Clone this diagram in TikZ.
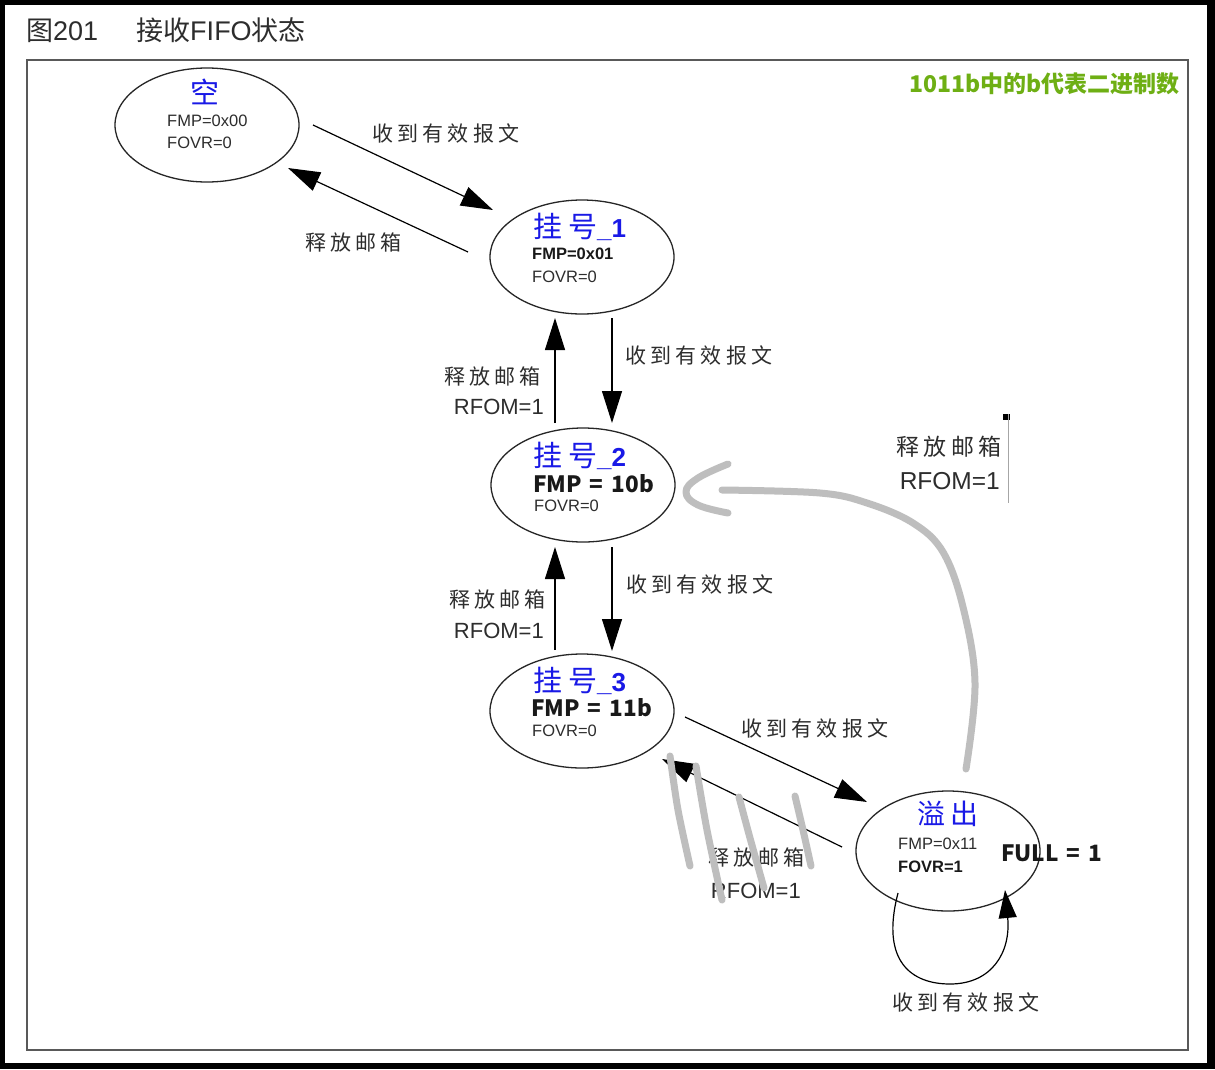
\documentclass[tikz,border=0pt]{standalone}
\usepackage{fontspec}
\setmainfont{Liberation Sans}
\newfontfamily\cjk{Noto Sans CJK SC}
\newfontfamily\cjkls{Noto Sans CJK SC}[LetterSpace=20]
\usetikzlibrary{arrows.meta,shapes.geometric,calc}
\definecolor{ttblue}{RGB}{25,25,230}
\definecolor{tgreen}{RGB}{110,175,20}
\definecolor{handgray}{RGB}{190,190,190}
\definecolor{txt}{RGB}{45,45,45}
\newcommand{\fsz}[1]{\fontsize{#1}{#1}\selectfont}
\newcommand{\eqs}{\hspace{8pt}=\hspace{8pt}}
\begin{document}
\begin{tikzpicture}[x=1pt,y=-1pt,
  st/.style={draw=black!85, ellipse, line width=1.3pt, minimum width=184pt, minimum height=114pt, inner sep=0pt},
  arr/.style={line width=1.2pt, -{Triangle[length=32pt,width=20pt]}},
  lbl/.style={inner sep=0pt, anchor=west, text=txt, font=\cjkls\fsz{21}},
  lblr/.style={inner sep=0pt, anchor=east, text=txt, font=\cjkls\fsz{21}},
  rf/.style={inner sep=0pt, anchor=east, text=txt, font=\fsz{22}},
  small/.style={inner sep=0pt, anchor=west, text=txt, font=\fsz{16.5}},
  smallb/.style={inner sep=0pt, anchor=west, text=black!90, font=\bfseries\fsz{16.5}},
  big/.style={inner sep=0pt, anchor=west, text=black!90, font=\cjk\bfseries\fsz{22.5}},
  ttl/.style={inner sep=0pt, text=ttblue},
  handline/.style={draw=handgray, line width=7pt, line cap=round, line join=round}
]
\useasboundingbox (0,0) rectangle (1215,1069);
\fill[black] (0,0) rectangle (1215,1069);
\fill[white] (5,5) rectangle (1207,1063);
\draw[black!65, line width=2pt] (27,60) rectangle (1188,1050);

% title
\node[inner sep=0pt, anchor=west, text=txt] (title) at (26,30)
  {\fsz{27}{\cjk 图}201\hspace{38pt}{\cjk 接收}FIFO{\cjk 状态}};
\node[inner sep=0pt, anchor=east, text=tgreen, font=\cjk\bfseries\fsz{23}] (note) at (1180,84)
  {1011b中的b代表二进制数};

% states
\node[st] (e0) at (207,125) {};
\node[st] (e1) at (582,257) {};
\node[st] (e2) at (583,485) {};
\node[st] (e3) at (582,711) {};
\node[st, minimum height=120pt] (e4) at (948,851) {};

% state texts
\node[ttl, font=\cjk\fsz{29}] (t0) at (205,92) {空};
\node[small] (t0a) at (167,121) {FMP=0x00};
\node[small] (t0b) at (167,143) {FOVR=0};

\node[ttl, anchor=west] (t1) at (533,227) {{\cjk\fsz{29}挂\hspace{6pt}号}{\bfseries\fsz{26}\_1}};
\node[smallb] (t1a) at (532,254) {FMP=0x01};
\node[small] (t1b) at (532,277) {FOVR=0};

\node[ttl, anchor=west] (t2) at (533,456) {{\cjk\fsz{29}挂\hspace{6pt}号}{\bfseries\fsz{26}\_2}};
\node[big] (t2a) at (533,484) {FMP\eqs10b};
\node[small] (t2b) at (534,506) {FOVR=0};

\node[ttl, anchor=west] (t3) at (533,681) {{\cjk\fsz{29}挂\hspace{6pt}号}{\bfseries\fsz{26}\_3}};
\node[big] (t3a) at (531,708) {FMP\eqs11b};
\node[small] (t3b) at (532,731) {FOVR=0};

\node[ttl, font=\cjkls\fsz{28}] (t4) at (948,814) {溢出};
\node[small] (t4a) at (898,844) {FMP=0x11};
\node[smallb] (t4b) at (898,867) {FOVR=1};
\node[big] (t4c) at (1001,853) {FULL\eqs1};

% edge labels
\node[lbl] (l1) at (372,133) {收到有效报文};
\node[lbl] (l2) at (305,242) {释放邮箱};
\node[lbl] (l3) at (625,355) {收到有效报文};
\node[lblr] (l4) at (541,376) {释放邮箱};
\node[rf] (l4b) at (544,407) {RFOM=1};
\node[lbl] (l5) at (626,584) {收到有效报文};
\node[lblr] (l6) at (546,599) {释放邮箱};
\node[rf] (l6b) at (544,631) {RFOM=1};
\node[lbl] (l7) at (741,728) {收到有效报文};
\node[lblr] (l8) at (805,857) {释放邮箱};
\node[rf] (l8b) at (801,891) {RFOM=1};
\node[lbl] (l9) at (892,1002) {收到有效报文};
\node[lblr, font=\cjkls\fsz{23}] (l10) at (1002,447) {释放邮箱};
\node[rf, font=\fsz{24.5}] (l10b) at (1000,481) {RFOM=1};

% connector end points
\coordinate (a1s) at (313,125); \coordinate (a1e) at (493,210);
\coordinate (a2s) at (468,252); \coordinate (a2e) at (288,168);
\coordinate (a3s) at (612,318); \coordinate (a3e) at (612,423);
\coordinate (a4s) at (555,423); \coordinate (a4e) at (555,318);
\coordinate (a5s) at (612,547); \coordinate (a5e) at (612,651);
\coordinate (a6s) at (555,650); \coordinate (a6e) at (555,547);
\coordinate (a7s) at (685,717); \coordinate (a7e) at (867,802);
\coordinate (a8s) at (842,847); \coordinate (a8e) at (662,759);
\coordinate (lps) at (898,893); \coordinate (lpe) at (1005,890);

\draw[arr] (a1s) -- (a1e);
\draw[arr] (a2s) -- (a2e);
\draw[arr] (a3s) -- (a3e);
\draw[arr] (a4s) -- (a4e);
\draw[arr] (a5s) -- (a5e);
\draw[arr] (a6s) -- (a6e);
\draw[arr] (a7s) -- (a7e);
\draw[arr] (a8s) -- (a8e);
\draw[line width=1.2pt, -{Triangle[length=28pt,width=18pt]}] (lps) .. controls (880,962) and (912,984) .. (950,984) .. controls (992,984) and (1011,952) .. (lpe);

% small stub at right
\fill[black] (1003,414) rectangle (1010,420);
\draw[black!35, line width=1pt] (1008,414) -- (1008,503);

% hand-drawn grey marks
\draw[handline] plot[smooth, tension=0.6] coordinates {(966,769) (975,683) (963,607) (943,552) (913,523) (867,503) (820,493) (722,490)};
\draw[handline] plot[smooth, tension=0.7] coordinates {(728,464) (698,478) (686,492) (698,505) (728,513)};
\draw[handline] plot[smooth] coordinates {(670,756) (678,810) (690,866)};
\draw[handline] plot[smooth] coordinates {(696,766) (707,830) (722,900)};
\draw[handline] plot[smooth] coordinates {(739,797) (750,838) (764,888)};
\draw[handline] plot[smooth] coordinates {(795,796) (803,830) (811,866)};
\end{tikzpicture}
\end{document}
